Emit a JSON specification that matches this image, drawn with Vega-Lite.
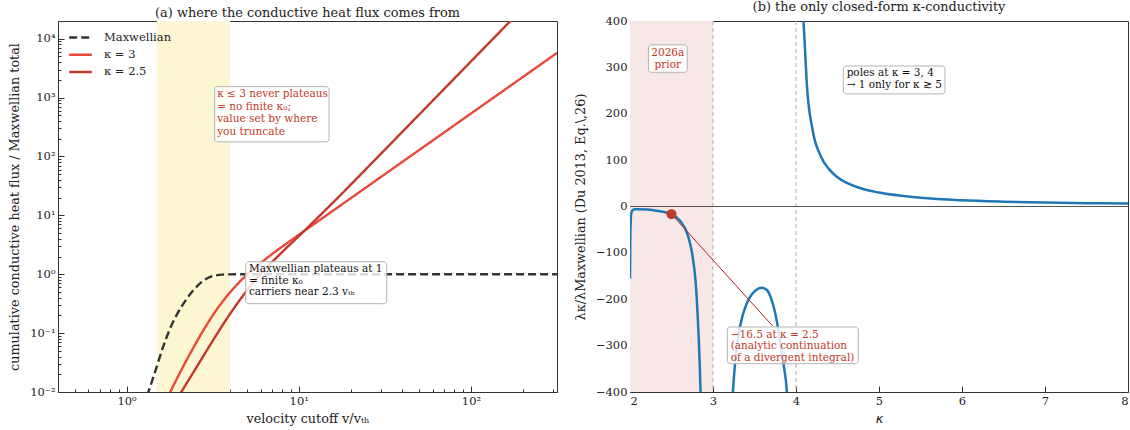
{
  "$schema": "https://vega.github.io/schema/vega-lite/v6.json",
  "background": "white",
  "padding": {"left": 8, "top": 0, "right": 2, "bottom": 0},
  "spacing": 15,
  "config": {
    "font": "DejaVu Serif",
    "view": {"stroke": "#333333", "strokeWidth": 1},
    "axis": {
      "domainColor": "#333333", "tickColor": "#333333", "labelColor": "#222222", "titleColor": "#222222",
      "labelFont": "DejaVu Serif", "labelFontSize": 11.5, "titleFont": "DejaVu Serif", "titleFontSize": 12.8,
      "titleFontWeight": "normal", "grid": false, "tickWidth": 1, "labelPadding": 9
    },
    "title": {"font": "DejaVu Serif", "fontSize": 12.9, "fontWeight": "normal", "color": "#222222", "frame": "group", "offset": 1},
    "legend": {"labelFont": "DejaVu Serif", "labelFontSize": 11.5, "labelColor": "#222222"}
  },
  "resolve": {"scale": {"color": "independent", "strokeDash": "independent"}, "legend": {"color": "independent", "strokeDash": "independent"}},
  "hconcat": [
    {
      "width": 499,
      "height": 371,
      "title": {"text": "(a) where the conductive heat flux comes from"},
      "layer": [
        {
          "data": {"values": [{"v": 1.5, "v2": 4}]},
          "mark": {"type": "rect", "color": "#fdf6d3"},
          "encoding": {
            "x": {"field": "v", "type": "quantitative"},
            "x2": {"field": "v2"}
          }
        },
        {
          "data": {"values": [
            {"series": "Maxwellian", "v": 1.25, "q": 0.0055},
            {"series": "Maxwellian", "v": 1.34, "q": 0.01},
            {"series": "Maxwellian", "v": 1.45, "q": 0.02},
            {"series": "Maxwellian", "v": 1.62, "q": 0.055},
            {"series": "Maxwellian", "v": 1.78, "q": 0.115},
            {"series": "Maxwellian", "v": 1.95, "q": 0.2},
            {"series": "Maxwellian", "v": 2.1, "q": 0.29},
            {"series": "Maxwellian", "v": 2.26, "q": 0.4},
            {"series": "Maxwellian", "v": 2.42, "q": 0.52},
            {"series": "Maxwellian", "v": 2.59, "q": 0.64},
            {"series": "Maxwellian", "v": 2.8, "q": 0.78},
            {"series": "Maxwellian", "v": 3.04, "q": 0.895},
            {"series": "Maxwellian", "v": 3.3, "q": 0.955},
            {"series": "Maxwellian", "v": 3.6, "q": 0.985},
            {"series": "Maxwellian", "v": 4.0, "q": 0.996},
            {"series": "Maxwellian", "v": 4.6, "q": 1.0},
            {"series": "Maxwellian", "v": 10, "q": 1.0},
            {"series": "Maxwellian", "v": 100, "q": 1.0},
            {"series": "Maxwellian", "v": 316, "q": 1.0},
            {"series": "κ = 3", "v": 1.698, "q": 0.00718},
            {"series": "κ = 3", "v": 1.795, "q": 0.01},
            {"series": "κ = 3", "v": 1.995, "q": 0.0186},
            {"series": "κ = 3", "v": 2.239, "q": 0.0354},
            {"series": "κ = 3", "v": 2.512, "q": 0.0653},
            {"series": "κ = 3", "v": 2.818, "q": 0.1164},
            {"series": "κ = 3", "v": 3.311, "q": 0.2423},
            {"series": "κ = 3", "v": 3.981, "q": 0.488},
            {"series": "κ = 3", "v": 4.786, "q": 0.869},
            {"series": "κ = 3", "v": 5.623, "q": 1.327},
            {"series": "κ = 3", "v": 6.607, "q": 1.932},
            {"series": "κ = 3", "v": 7.943, "q": 2.89},
            {"series": "κ = 3", "v": 10, "q": 4.67},
            {"series": "κ = 3", "v": 15.85, "q": 12.05},
            {"series": "κ = 3", "v": 31.62, "q": 50.0},
            {"series": "κ = 3", "v": 63.1, "q": 207.5},
            {"series": "κ = 3", "v": 125.9, "q": 861},
            {"series": "κ = 3", "v": 316.2, "q": 5741},
            {"series": "κ = 2.5", "v": 1.95, "q": 0.00734},
            {"series": "κ = 2.5", "v": 2.08, "q": 0.01},
            {"series": "κ = 2.5", "v": 2.512, "q": 0.0246},
            {"series": "κ = 2.5", "v": 3.162, "q": 0.0736},
            {"series": "κ = 2.5", "v": 3.802, "q": 0.1718},
            {"series": "κ = 2.5", "v": 4.467, "q": 0.3396},
            {"series": "κ = 2.5", "v": 5.248, "q": 0.635},
            {"series": "κ = 2.5", "v": 6.31, "q": 1.178},
            {"series": "κ = 2.5", "v": 7.943, "q": 2.323},
            {"series": "κ = 2.5", "v": 10, "q": 4.43},
            {"series": "κ = 2.5", "v": 15.85, "q": 16.63},
            {"series": "κ = 2.5", "v": 31.62, "q": 130},
            {"series": "κ = 2.5", "v": 63.1, "q": 1033},
            {"series": "κ = 2.5", "v": 125.9, "q": 8204},
            {"series": "κ = 2.5", "v": 316.2, "q": 130000}
          ]},
          "mark": {"type": "line", "interpolate": "monotone", "clip": true, "strokeWidth": 2.4},
          "encoding": {
            "x": {
              "field": "v", "type": "quantitative",
              "scale": {"type": "log", "domain": [0.4, 316], "nice": false},
              "axis": {
                "title": "velocity cutoff  v/vₜₕ",
                "values": [0.4, 0.5, 0.6, 0.7, 0.8, 0.9, 1, 2, 3, 4, 5, 6, 7, 8, 9, 10, 20, 30, 40, 50, 60, 70, 80, 90, 100, 200, 300],
                "labelExpr": "datum.value == 1 ? '10⁰' : datum.value == 10 ? '10¹' : datum.value == 100 ? '10²' : ''",
                "tickSize": {"condition": {"test": "indexof([1, 10, 100], datum.value) >= 0", "value": -6}, "value": -3},
                "titlePadding": 6
              }
            },
            "y": {
              "field": "q", "type": "quantitative",
              "scale": {"type": "log", "domain": [0.01, 20000], "nice": false},
              "axis": {
                "title": "cumulative conductive heat flux / Maxwellian total",
                "values": [0.01, 0.02, 0.03, 0.04, 0.05, 0.06, 0.07, 0.08, 0.09, 0.1, 0.2, 0.3, 0.4, 0.5, 0.6, 0.7, 0.8, 0.9, 1, 2, 3, 4, 5, 6, 7, 8, 9, 10, 20, 30, 40, 50, 60, 70, 80, 90, 100, 200, 300, 400, 500, 600, 700, 800, 900, 1000, 2000, 3000, 4000, 5000, 6000, 7000, 8000, 9000, 10000, 20000],
                "labelExpr": "datum.value == 0.01 ? '10⁻²' : datum.value == 0.1 ? '10⁻¹' : datum.value == 1 ? '10⁰' : datum.value == 10 ? '10¹' : datum.value == 100 ? '10²' : datum.value == 1000 ? '10³' : datum.value == 10000 ? '10⁴' : ''",
                "tickSize": {"condition": {"test": "indexof([0.01, 0.1, 1, 10, 100, 1000, 10000], datum.value) >= 0", "value": -6}, "value": -3},
                "titlePadding": 8
              }
            },
            "color": {
              "field": "series", "type": "nominal",
              "scale": {"domain": ["Maxwellian", "κ = 3", "κ = 2.5"], "range": ["#333333", "#e8493b", "#c0392b"]},
              "legend": {
                "title": null, "orient": "none", "legendX": 14, "legendY": 8,
                "symbolType": "M-1.6,0H1.6", "symbolSize": 200, "symbolStrokeWidth": 2.5,
                "labelOffset": 15, "rowPadding": 3.2, "padding": 0
              }
            },
            "strokeDash": {
              "field": "series", "type": "nominal",
              "scale": {"domain": ["Maxwellian", "κ = 3", "κ = 2.5"], "range": [[8, 4], [1, 0], [1, 0]]},
              "legend": {
                "title": null, "orient": "none", "legendX": 14, "legendY": 8,
                "symbolType": "M-1.6,0H1.6", "symbolSize": 200, "symbolStrokeWidth": 2.5,
                "labelOffset": 15, "rowPadding": 3.2, "padding": 0
              }
            }
          }
        },
        {
          "data": {"values": [{"v": 3.25, "v2": 15.0, "q": 1536, "q2": 177}]},
          "mark": {"type": "rect", "fill": "white", "fillOpacity": 0.82, "stroke": "#b3b3b3", "strokeWidth": 1, "cornerRadius": 3},
          "encoding": {
            "x": {"field": "v", "type": "quantitative"}, "x2": {"field": "v2"},
            "y": {"field": "q", "type": "quantitative"}, "y2": {"field": "q2"}
          }
        },
        {
          "data": {"values": [{"v": 3.36, "q": 1393, "label": "κ ≤ 3 never plateaus\n= no finite κ₀;\nvalue set by where\nyou truncate"}]},
          "mark": {"type": "text", "align": "left", "baseline": "top", "color": "#c0392b", "fontSize": 10.5, "lineHeight": 12.5, "lineBreak": "\n"},
          "encoding": {
            "x": {"field": "v", "type": "quantitative"},
            "y": {"field": "q", "type": "quantitative"},
            "text": {"field": "label"}
          }
        },
        {
          "data": {"values": [{"v": 4.92, "v2": 32.4, "q": 1.63, "q2": 0.316}]},
          "mark": {"type": "rect", "fill": "white", "fillOpacity": 0.82, "stroke": "#b3b3b3", "strokeWidth": 1, "cornerRadius": 3},
          "encoding": {
            "x": {"field": "v", "type": "quantitative"}, "x2": {"field": "v2"},
            "y": {"field": "q", "type": "quantitative"}, "y2": {"field": "q2"}
          }
        },
        {
          "data": {"values": [{"v": 5.14, "q": 1.477, "label": "Maxwellian plateaus at 1\n= finite κ₀\ncarriers near 2.3 vₜₕ"}]},
          "mark": {"type": "text", "align": "left", "baseline": "top", "color": "#111111", "fontSize": 10.5, "lineHeight": 11.5, "lineBreak": "\n"},
          "encoding": {
            "x": {"field": "v", "type": "quantitative"},
            "y": {"field": "q", "type": "quantitative"},
            "text": {"field": "label"}
          }
        }
      ]
    },
    {
      "width": 498,
      "height": 371,
      "title": {"text": "(b) the only closed-form κ-conductivity"},
      "layer": [
        {
          "data": {"values": [{"k": 2, "k2": 3}]},
          "mark": {"type": "rect", "color": "#f7e7e7"},
          "encoding": {
            "x": {"field": "k", "type": "quantitative"},
            "x2": {"field": "k2"}
          }
        },
        {
          "data": {"values": [{"k": 3}, {"k": 4}]},
          "mark": {"type": "rule", "stroke": "#b0b0b0", "strokeWidth": 1, "strokeDash": [4, 3]},
          "encoding": {"x": {"field": "k", "type": "quantitative"}}
        },
        {
          "data": {"values": [{"lam": 0}]},
          "mark": {"type": "rule", "stroke": "#555555", "strokeWidth": 1.2},
          "encoding": {"y": {"field": "lam", "type": "quantitative"}}
        },
        {
          "data": {"values": [
            {"branch": "b1", "k": 2.0, "lam": -155},
            {"branch": "b1", "k": 2.003, "lam": -80},
            {"branch": "b1", "k": 2.008, "lam": -35},
            {"branch": "b1", "k": 2.015, "lam": -15},
            {"branch": "b1", "k": 2.03, "lam": -8},
            {"branch": "b1", "k": 2.06, "lam": -6},
            {"branch": "b1", "k": 2.1, "lam": -5.8},
            {"branch": "b1", "k": 2.2, "lam": -6.5},
            {"branch": "b1", "k": 2.3, "lam": -8.5},
            {"branch": "b1", "k": 2.4, "lam": -11.5},
            {"branch": "b1", "k": 2.5, "lam": -16.5},
            {"branch": "b1", "k": 2.6, "lam": -30},
            {"branch": "b1", "k": 2.7, "lam": -64},
            {"branch": "b1", "k": 2.75, "lam": -103},
            {"branch": "b1", "k": 2.8, "lam": -186},
            {"branch": "b1", "k": 2.85, "lam": -400},
            {"branch": "b1", "k": 2.87, "lam": -560},
            {"branch": "b2", "k": 3.22, "lam": -470},
            {"branch": "b2", "k": 3.24, "lam": -400},
            {"branch": "b2", "k": 3.27, "lam": -330},
            {"branch": "b2", "k": 3.3, "lam": -285},
            {"branch": "b2", "k": 3.35, "lam": -240},
            {"branch": "b2", "k": 3.4, "lam": -212},
            {"branch": "b2", "k": 3.5, "lam": -183},
            {"branch": "b2", "k": 3.59, "lam": -175},
            {"branch": "b2", "k": 3.65, "lam": -180},
            {"branch": "b2", "k": 3.7, "lam": -198},
            {"branch": "b2", "k": 3.75, "lam": -230},
            {"branch": "b2", "k": 3.8, "lam": -280},
            {"branch": "b2", "k": 3.85, "lam": -340},
            {"branch": "b2", "k": 3.89, "lam": -400},
            {"branch": "b2", "k": 3.91, "lam": -470},
            {"branch": "b3", "k": 4.08, "lam": 450},
            {"branch": "b3", "k": 4.09, "lam": 400},
            {"branch": "b3", "k": 4.1, "lam": 370},
            {"branch": "b3", "k": 4.13, "lam": 265},
            {"branch": "b3", "k": 4.2, "lam": 165},
            {"branch": "b3", "k": 4.3, "lam": 108},
            {"branch": "b3", "k": 4.4, "lam": 80},
            {"branch": "b3", "k": 4.5, "lam": 63},
            {"branch": "b3", "k": 4.75, "lam": 41},
            {"branch": "b3", "k": 5.0, "lam": 30},
            {"branch": "b3", "k": 5.5, "lam": 19},
            {"branch": "b3", "k": 6.0, "lam": 13.5},
            {"branch": "b3", "k": 6.5, "lam": 10.5},
            {"branch": "b3", "k": 7.0, "lam": 8.5},
            {"branch": "b3", "k": 7.5, "lam": 7.2},
            {"branch": "b3", "k": 8.0, "lam": 6.2}
          ]},
          "mark": {"type": "line", "color": "#1f77b4", "strokeWidth": 2.5, "clip": true, "interpolate": "monotone"},
          "encoding": {
            "x": {
              "field": "k", "type": "quantitative",
              "scale": {"domain": [2, 8], "nice": false, "zero": false},
              "axis": {
                "title": "κ", "titleFont": "DejaVu Sans", "titleFontStyle": "italic",
                "values": [2, 3, 4, 5, 6, 7, 8], "format": "d",
                "tickSize": -6, "titlePadding": 6
              }
            },
            "y": {
              "field": "lam", "type": "quantitative",
              "scale": {"domain": [-400, 400], "nice": false, "zero": false},
              "axis": {
                "title": "λκ/λMaxwellian  (Du 2013, Eq.\\,26)",
                "values": [-400, -300, -200, -100, 0, 100, 200, 300, 400], "format": "d",
                "tickSize": -6, "titlePadding": 8
              }
            },
            "detail": {"field": "branch", "type": "nominal"}
          }
        },
        {
          "data": {"values": [{"k": 2.5, "lam": -16.5, "k2": 3.72, "lam2": -258}]},
          "mark": {"type": "rule", "stroke": "#b22222", "strokeWidth": 1},
          "encoding": {
            "x": {"field": "k", "type": "quantitative"}, "x2": {"field": "k2"},
            "y": {"field": "lam", "type": "quantitative"}, "y2": {"field": "lam2"}
          }
        },
        {
          "data": {"values": [{"k": 2.5, "lam": -16.5}]},
          "mark": {"type": "point", "filled": true, "color": "#c0392b", "size": 100, "opacity": 1},
          "encoding": {
            "x": {"field": "k", "type": "quantitative"},
            "y": {"field": "lam", "type": "quantitative"}
          }
        },
        {
          "data": {"values": [
            {"k": 2.222, "k2": 2.69, "lam": 348.6, "lam2": 289.4},
            {"k": 4.57, "k2": 5.795, "lam": 303, "lam2": 242.8},
            {"k": 3.172, "k2": 4.75, "lam": -259.8, "lam2": -339}
          ]},
          "mark": {"type": "rect", "fill": "white", "fillOpacity": 0.82, "stroke": "#b3b3b3", "strokeWidth": 1, "cornerRadius": 3},
          "encoding": {
            "x": {"field": "k", "type": "quantitative"}, "x2": {"field": "k2"},
            "y": {"field": "lam", "type": "quantitative"}, "y2": {"field": "lam2"}
          }
        },
        {
          "data": {"values": [{"k": 2.455, "lam": 342.8, "label": "2026a\nprior"}]},
          "mark": {"type": "text", "align": "center", "baseline": "top", "color": "#c0392b", "fontSize": 10.5, "lineHeight": 12, "lineBreak": "\n"},
          "encoding": {
            "x": {"field": "k", "type": "quantitative"},
            "y": {"field": "lam", "type": "quantitative"},
            "text": {"field": "label"}
          }
        },
        {
          "data": {"values": [{"k": 4.61, "lam": 298.5, "label": "poles at κ = 3, 4\n→ 1 only for κ ≳ 5"}]},
          "mark": {"type": "text", "align": "left", "baseline": "top", "color": "#111111", "fontSize": 10.5, "lineHeight": 11.7, "lineBreak": "\n"},
          "encoding": {
            "x": {"field": "k", "type": "quantitative"},
            "y": {"field": "lam", "type": "quantitative"},
            "text": {"field": "label"}
          }
        },
        {
          "data": {"values": [{"k": 3.213, "lam": -265.7, "label": "−16.5 at κ = 2.5\n(analytic continuation\nof a divergent integral)"}]},
          "mark": {"type": "text", "align": "left", "baseline": "top", "color": "#c0392b", "fontSize": 10.5, "lineHeight": 11.7, "lineBreak": "\n"},
          "encoding": {
            "x": {"field": "k", "type": "quantitative"},
            "y": {"field": "lam", "type": "quantitative"},
            "text": {"field": "label"}
          }
        }
      ]
    }
  ]
}
